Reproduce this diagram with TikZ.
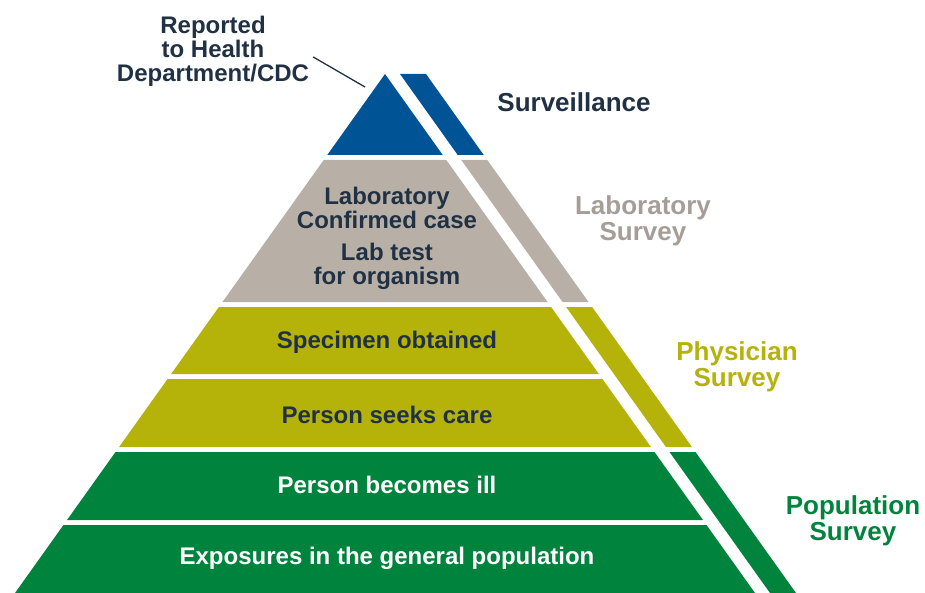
\documentclass[tikz,border=0pt]{standalone}
\usepackage{fontspec}
\setmainfont{Liberation Sans}
\usetikzlibrary{
    positioning % relative placement of the labels
}
\definecolor{survblue}{RGB}{0,84,150}
\definecolor{labgray}{RGB}{184,176,166}
\definecolor{labtext}{RGB}{166,158,150}
\definecolor{physolive}{RGB}{181,178,10}
\definecolor{popgreen}{RGB}{0,132,61}
\definecolor{navytext}{RGB}{32,49,68}

\begin{document}
\begin{tikzpicture}[x=1pt, y=-1pt]

    % --- Styles ---
    \tikzset{
        band_text/.style={font=\fontsize{24}{24}\selectfont\bfseries, text=navytext, align=center, inner sep=0pt},
        band_text_white/.style={band_text, text=white},
        survey_label/.style={font=\fontsize{26}{26}\selectfont\bfseries, align=center, inner sep=0pt},
        leader/.style={draw=navytext, line width=1.3pt}
    }

    \useasboundingbox (0,0) rectangle (925,593);
    \pgfmathsetmacro{\slope}{370/519}

    % --- Pyramid bands (left part) ---
    \foreach \ytop/\ybot/\col in {74/155/survblue, 160/302/labgray, 307/374/physolive,
                                  379/447/physolive, 452/520/popgreen, 525/593/popgreen} {
        \fill[\col] ({15+\slope*(593-\ytop)},\ytop) -- ({385+\slope*(\ytop-74)},\ytop)
            -- ({385+\slope*(\ybot-74)},\ybot) -- ({15+\slope*(593-\ybot)},\ybot) -- cycle;
    }

    % --- Side strip (right part) ---
    \foreach \ytop/\ybot/\col in {74/155/survblue, 160/302/labgray, 307/447/physolive, 452/593/popgreen} {
        \fill[\col] ({400+\slope*(\ytop-74)},\ytop) -- ({426+\slope*(\ytop-74)},\ytop)
            -- ({426+\slope*(\ybot-74)},\ybot) -- ({400+\slope*(\ybot-74)},\ybot) -- cycle;
    }

    % --- Band texts ---
    \node[band_text] (lab_confirmed) at (387,208) {Laboratory\\Confirmed case};
    \node[band_text, below=14pt of lab_confirmed] (lab_test) {Lab test\\for organism};
    \node[band_text] (specimen) at (387,342) {Specimen obtained};
    \node[band_text] (seeks_care) at (387,415) {Person seeks care};
    \node[band_text_white] (becomes_ill) at (387,485) {Person becomes ill};
    \node[band_text_white] (exposures) at (387,558) {Exposures in the general population};

    % --- Top label and leader ---
    \node[band_text] (reported) at (213,51) {Reported\\to Health\\Department/CDC};
    \coordinate (apex_tip) at (365,87);
    \draw[leader] ([shift={(4,6)}]reported.east) -- (apex_tip);

    % --- Survey labels ---
    \node[survey_label, text=navytext] (surveillance) at (574,102) {Surveillance};
    \node[survey_label, text=labtext] (lab_survey) at (643,221) {Laboratory\\Survey};
    \node[survey_label, text=physolive] (phys_survey) at (737,367) {Physician\\Survey};
    \node[survey_label, text=popgreen] (pop_survey) at (853,521) {Population\\Survey};

\end{tikzpicture}
\end{document}
